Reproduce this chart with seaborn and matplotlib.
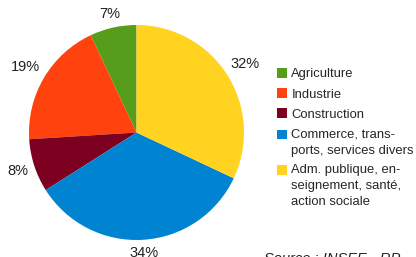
import matplotlib
matplotlib.use("Agg")
import matplotlib.pyplot as plt
import seaborn as sns
import numpy as np
from matplotlib.patches import Patch, Rectangle
from matplotlib.legend_handler import HandlerPatch

sns.set_theme(style="white")
plt.rcParams['font.family'] = ['Liberation Sans', 'DejaVu Sans']

categories = ['Agriculture', 'Industrie', 'Construction',
              'Commerce, trans-\nports, services divers',
              'Adm. publique, en-\nseignement, santé,\naction sociale']
values = [7, 19, 8, 34, 32]
colors = sns.color_palette(['#579D1C', '#FF420E', '#7E0021', '#0084D1', '#FFD320'])

fig = plt.figure(figsize=(4.16, 2.57), dpi=100)
ax = fig.add_axes([29 / 416, 17 / 257, 215 / 416, 215 / 257])

wedges, texts = ax.pie(values, colors=colors, startangle=90, counterclock=True,
                       labels=[f"{v}%" for v in values], labeldistance=1.15,
                       wedgeprops=dict(linewidth=0),
                       textprops=dict(fontsize=10.5, color='#222222'))
ax.set_aspect('equal')
ax.set_xlim(-1, 1)
ax.set_ylim(-1, 1)
ax.axis('off')

# put each percentage just outside the rim, like the office chart does
fig.canvas.draw()
rend = fig.canvas.get_renderer()
px = 107.5
for w, t in zip(wedges, texts):
    a = np.deg2rad((w.theta1 + w.theta2) / 2)
    bb = t.get_window_extent(rend)
    ext = (bb.width / 2 * abs(np.cos(a)) + bb.height / 2 * abs(np.sin(a))) / px
    d = 1 + 5 / px + ext
    t.set_position((d * np.cos(a), d * np.sin(a)))
    t.set_ha('center')
    t.set_va('center')


# legend squares sit on the first line of a wrapped label
def top_square(nlines, step=11.7):
    def f(legend, orig_handle, xdescent, ydescent, width, height, fontsize):
        return Rectangle((-xdescent, -ydescent + (nlines - 1) / 2 * step), width, height)
    return f


handles = [Patch(facecolor=c, edgecolor='none') for c in colors]
hmap = {h: HandlerPatch(patch_func=top_square(lab.count('\n') + 1))
        for h, lab in zip(handles, categories)}
leg = fig.legend(handles, categories, loc='upper left', bbox_to_anchor=(277 / 416, 1 - 68 / 257),
                 frameon=False, fontsize=9.4, handlelength=0.75, handleheight=0.75,
                 handletextpad=0.35, labelspacing=0.6, borderpad=0, borderaxespad=0,
                 handler_map=hmap)
for t in leg.get_texts():
    t.set_linespacing(1.45)

fig.text(264 / 416, 5 / 257, 'Source : INSEE - RP', fontsize=10.5, style='italic',
         color='#222222', va='top', ha='left')

fig.savefig('out.png', dpi=100)
